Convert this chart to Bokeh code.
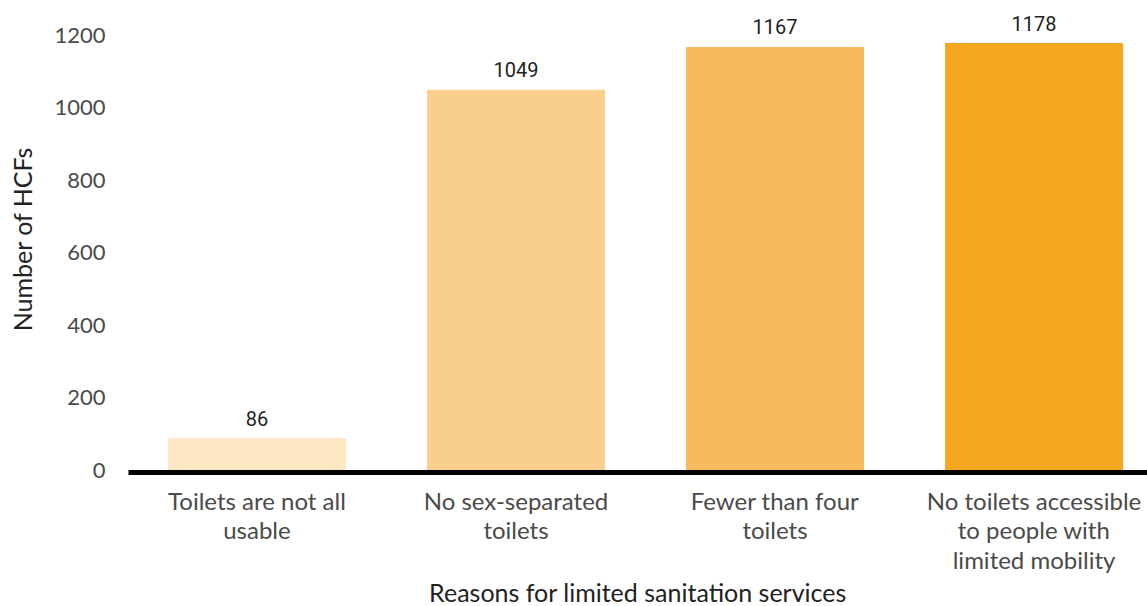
from bokeh.plotting import figure
from bokeh.models import Range1d, FixedTicker, ColumnDataSource
from bokeh.core.properties import value
from bokeh.embed import file_html
from bokeh.resources import INLINE

# Reasons for limited sanitation services and the number of HCFs for each
categories = [
    "Toilets are not all\nusable",
    "No sex-separated\ntoilets",
    "Fewer than four\ntoilets",
    "No toilets accessible\nto people with\nlimited mobility",
]
counts = [86, 1049, 1167, 1178]
bar_colors = ["#FDE7C4", "#FACF8E", "#F8BA5B", "#F5A81F"]
y_ticks = [0, 200, 400, 600, 800, 1000, 1200]

xs = [i + 0.5 for i in range(len(categories))]
src = ColumnDataSource(dict(
    x=xs,
    top=counts,
    color=bar_colors,
    label=[str(c) for c in counts],
))

p = figure(
    frame_width=1019, frame_height=467,
    x_range=Range1d(0.004, 3.938),
    y_range=Range1d(-6.9, 1283),
    output_backend="svg", toolbar_location=None,
    min_border_left=128, min_border_right=0,
    min_border_top=5, min_border_bottom=0,
)
p.outline_line_color = None
p.grid.visible = False

p.vbar(x="x", top="top", bottom=0, width=0.683, color="color", source=src)

p.text(x="x", y="top", text="label", source=src,
       text_align="center", text_baseline="bottom", y_offset=-13,
       text_font=value("Roboto"), text_font_size="20px",
       text_color="#222222")

# x axis: category labels under each bar
xa = p.xaxis[0]
xa.ticker = FixedTicker(ticks=xs)
xa.major_label_overrides = {x: c for x, c in zip(xs, categories)}
xa.major_tick_line_color = None
xa.minor_tick_line_color = None
xa.axis_line_color = "#000000"
xa.axis_line_width = 5
xa.major_label_standoff = 7
xa.major_label_text_font = "Lato"
xa.major_label_text_font_size = "24px"
xa.major_label_text_line_height = 1.03
xa.major_label_text_color = "#4a4a4a"
xa.axis_label = "Reasons for limited sanitation services"
xa.axis_label_text_font = "Lato"
xa.axis_label_text_font_size = "25px"
xa.axis_label_text_font_style = "normal"
xa.axis_label_text_color = "#222222"
xa.axis_label_standoff = 0

# y axis: counts, no line or ticks
ya = p.yaxis[0]
ya.ticker = FixedTicker(ticks=y_ticks)
ya.axis_line_color = None
ya.major_tick_line_color = None
ya.minor_tick_line_color = None
ya.major_label_standoff = 17
ya.major_label_text_font = "Lato"
ya.major_label_text_font_size = "22px"
ya.major_label_text_color = "#4a4a4a"
ya.axis_label = "Number of HCFs"
ya.axis_label_text_font = "Lato"
ya.axis_label_text_font_size = "25px"
ya.axis_label_text_font_style = "normal"
ya.axis_label_text_color = "#222222"
ya.axis_label_standoff = 14

open("out.html", "w").write(file_html(p, INLINE))
